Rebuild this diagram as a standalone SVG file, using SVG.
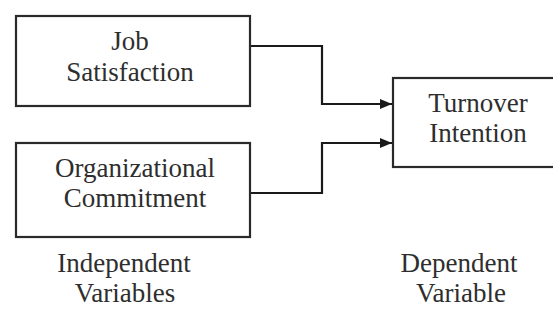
<svg xmlns="http://www.w3.org/2000/svg" width="553" height="321" viewBox="0 0 553 321">
<defs>
<style>
.box{fill:#fff;stroke:#2a2a2a;stroke-width:2.2}
.t{font-size:27px;fill:#2e2e2e;text-anchor:middle}
.c{fill:none;stroke:#1a1a1a;stroke-width:2.2}
</style>
<marker id="ah" viewBox="0 0 12 10" refX="12" refY="5" markerWidth="12" markerHeight="10" markerUnits="userSpaceOnUse" orient="auto">
<path d="M0,0 L12,5 L0,10 Z" fill="#1a1a1a"/>
</marker>
</defs>
<rect width="553" height="321" fill="#fff"/>
<g id="connectors">
<path class="c" d="M250,46 H322 V104 H392" marker-end="url(#ah)"/>
<path class="c" d="M250,193 H322 V143 H392" marker-end="url(#ah)"/>
</g>
<g font-family="Liberation Serif, DejaVu Serif, serif">
<g id="job-satisfaction">
<rect class="box" x="16" y="16" width="234" height="90"/>
<text class="t" x="130" y="50">Job</text>
<text class="t" x="130" y="81">Satisfaction</text>
</g>
<g id="organizational-commitment">
<rect class="box" x="16" y="143" width="234" height="94"/>
<text class="t" x="135" y="177">Organizational</text>
<text class="t" x="135" y="207">Commitment</text>
</g>
<g id="turnover-intention">
<rect class="box" x="393" y="78" width="170" height="89"/>
<text class="t" x="478" y="112">Turnover</text>
<text class="t" x="478" y="142">Intention</text>
</g>
<g id="independent-label">
<text class="t" x="124" y="272">Independent</text>
<text class="t" x="125" y="302">Variables</text>
</g>
<g id="dependent-label">
<text class="t" x="459" y="272">Dependent</text>
<text class="t" x="461" y="302">Variable</text>
</g>
</g>
</svg>
